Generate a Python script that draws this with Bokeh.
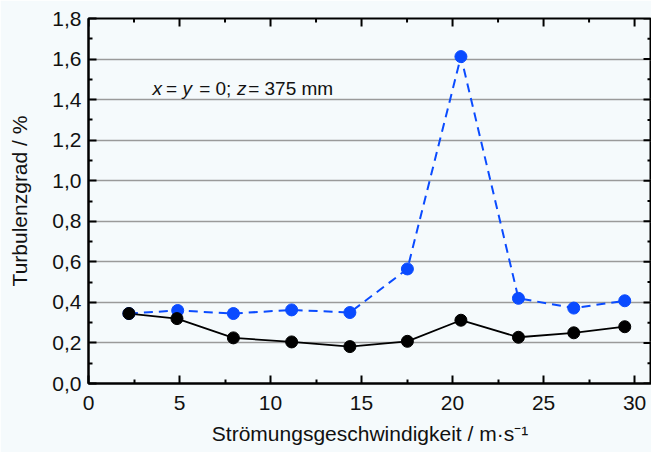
import math
from bokeh.plotting import figure
from bokeh.models import Range1d, FixedTicker, Label, ColumnDataSource
from bokeh.embed import file_html
from bokeh.resources import INLINE

# ---- data ----
speed_black = [2.22, 4.86, 7.96, 11.16, 14.36, 17.52, 20.46, 23.62, 26.66, 29.46]
turb_black = [0.345, 0.32, 0.225, 0.205, 0.182, 0.208, 0.312, 0.228, 0.25, 0.28]
speed_blue = [2.22, 4.9, 7.96, 11.16, 14.36, 17.52, 20.46, 23.62, 26.66, 29.46]
turb_blue = [0.345, 0.36, 0.345, 0.363, 0.35, 0.565, 1.612, 0.42, 0.372, 0.408]

x_ticks = [0, 5, 10, 15, 20, 25, 30]
x_minor = [2.5, 7.5, 12.5, 17.5, 22.5, 27.5]
y_ticks = [0.0, 0.2, 0.4, 0.6, 0.8, 1.0, 1.2, 1.4, 1.6, 1.8]
y_minor = [0.1, 0.3, 0.5, 0.7, 0.9, 1.1, 1.3, 1.5, 1.7]
y_labels = ["0,0", "0,2", "0,4", "0,6", "0,8", "1,0", "1,2", "1,4", "1,6", "1,8"]

x_title = "Strömungsgeschwindigkeit / m·s⁻¹"
y_title = "Turbulenzgrad / %"

X_MIN, X_MAX = 0, 30.93
Y_MIN, Y_MAX = 0, 1.8

BG = "#f5fafc"
FONT = "Liberation Sans"
BLUE = "#0a4bff"
INK = "#111111"

p = figure(frame_width=563, frame_height=365, output_backend="svg", toolbar_location=None,
           x_range=Range1d(X_MIN, X_MAX), y_range=Range1d(Y_MIN, Y_MAX),
           min_border_left=88, min_border_right=0, min_border_top=18,
           min_border_bottom=69, background_fill_color=BG, border_fill_color=BG,
           outline_line_color="black", outline_line_width=2)

p.xgrid.visible = False
p.ygrid.ticker = FixedTicker(ticks=y_ticks)
p.ygrid.grid_line_color = "#9a9a9a"
p.ygrid.grid_line_width = 1.5

xt = FixedTicker(ticks=x_ticks, minor_ticks=x_minor)
yt = FixedTicker(ticks=y_ticks, minor_ticks=y_minor)

def style(ax):
    ax.axis_line_color = "black"
    ax.axis_line_width = 2
    ax.major_tick_in = 8
    ax.major_tick_out = 0
    ax.minor_tick_in = 4
    ax.minor_tick_out = 0
    ax.major_tick_line_width = 2
    ax.minor_tick_line_width = 2
    ax.major_tick_line_color = "black"
    ax.minor_tick_line_color = "black"
    ax.major_label_text_font = FONT
    ax.major_label_text_font_size = "21px"
    ax.major_label_text_color = INK
    ax.axis_label_text_font = FONT
    ax.axis_label_text_font_size = "21px"
    ax.axis_label_text_font_style = "normal"
    ax.axis_label_text_color = INK

xa = p.xaxis[0]
xa.ticker = xt
style(xa)
xa.major_label_standoff = 12
xa.axis_label = x_title
xa.axis_label_standoff = 9

ya = p.yaxis[0]
ya.ticker = yt
style(ya)
ya.major_label_overrides = {t: l for t, l in zip(y_ticks, y_labels)}
ya.major_label_standoff = 7
ya.axis_label = y_title
ya.axis_label_standoff = 18

# inner ticks on the top and right frame edges (half of each dash is clipped by the frame)
p.scatter(x_ticks, [Y_MAX] * len(x_ticks), marker="dash", angle=math.pi / 2, size=16,
          line_color="black", line_width=2)
p.scatter(x_minor, [Y_MAX] * len(x_minor), marker="dash", angle=math.pi / 2, size=8,
          line_color="black", line_width=2)
p.scatter([X_MAX] * len(y_ticks), y_ticks, marker="dash", size=16,
          line_color="black", line_width=2)
p.scatter([X_MAX] * len(y_minor), y_minor, marker="dash", size=8,
          line_color="black", line_width=2)

src_b = ColumnDataSource(dict(x=speed_black, y=turb_black))
src_u = ColumnDataSource(dict(x=speed_blue, y=turb_blue))

p.line("x", "y", source=src_u, line_color=BLUE, line_width=2, line_dash="9 6")
p.line("x", "y", source=src_b, line_color="black", line_width=1.8)
p.scatter("x", "y", source=src_u, size=12, fill_color=BLUE, line_color=BLUE)
p.scatter("x", "y", source=src_b, size=12, fill_color="black", line_color="black")

# annotation: x = y = 0; z = 375 mm  (italic variables)
pieces = [("x", 3.52, "italic"), ("=", 4.26, "normal"), ("y", 5.17, "italic"),
          ("= 0;", 6.08, "normal"), ("z", 8.16, "italic"), ("= 375 mm", 8.77, "normal")]
for txt, xx, st in pieces:
    p.add_layout(Label(x=xx, y=1.453, text=txt, text_font=FONT, text_font_size="19px",
                       text_font_style=st, text_color=INK,
                       text_baseline="alphabetic", text_align="left"))

open("out.html", "w").write(file_html(p, INLINE))
